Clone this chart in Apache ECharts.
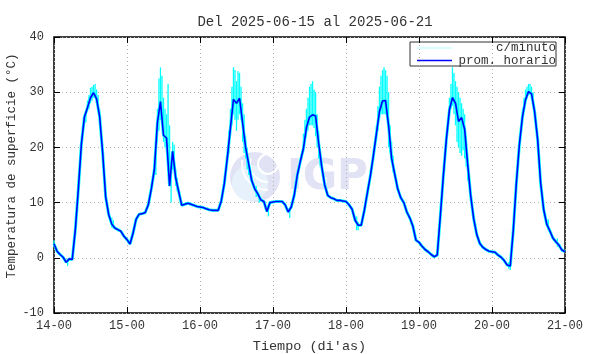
<!DOCTYPE html>
<html>
<head>
<meta charset="utf-8">
<script src="https://cdn.jsdelivr.net/npm/echarts@6.0.0/dist/echarts.min.js"></script>
<style>
  html, body { margin: 0; padding: 0; background: #fff; }
  #chart { width: 590px; height: 354px; }
</style>
</head>
<body>
<div id="chart"></div>
<script>
// etiquetas del eje x (un tick por dia)
const xTickLabels = ['14-00', '15-00', '16-00', '17-00', '18-00', '19-00', '20-00', '21-00']

// promedio horario, 24 valores por dia
const day14 = [2.5, 1.2, 0.6, 0.1, -0.8, -0.2, -0.3, 5.0, 12.4, 20.6, 25.5, 27.2, 29.0, 29.9, 28.8, 25.6, 19.0, 11.0, 7.8, 6.1, 5.4, 5.1, 4.8, 3.9]
const day15 = [3.3, 2.5, 4.5, 7.0, 7.9, 8.0, 8.2, 9.6, 12.5, 16.0, 24.5, 28.3, 22.2, 21.7, 13.0, 19.3, 14.5, 12.0, 9.5, 9.7, 9.9, 9.7, 9.5, 9.3]
const day16 = [9.2, 9.1, 8.9, 8.7, 8.6, 8.6, 8.6, 10.3, 13.5, 18.2, 23.5, 28.7, 28.0, 28.9, 24.5, 20.0, 17.0, 14.0, 12.5, 11.6, 10.5, 10.2, 8.4, 10.0]
const day17 = [10.1, 10.2, 10.2, 10.2, 9.6, 8.3, 9.2, 11.4, 15.0, 17.5, 19.8, 23.6, 25.5, 25.9, 25.7, 20.8, 16.6, 13.2, 11.3, 10.9, 10.7, 10.4, 10.4, 10.3]
const day18 = [10.2, 9.6, 8.8, 6.8, 5.9, 5.9, 8.5, 11.7, 14.8, 18.5, 22.5, 26.5, 28.4, 28.5, 24.0, 18.0, 15.2, 12.5, 10.9, 10.0, 8.3, 7.2, 5.7, 3.2]
const day19 = [2.8, 2.1, 1.5, 1.1, 0.6, 0.2, 0.5, 7.5, 14.8, 21.5, 26.8, 29.0, 28.0, 24.7, 25.4, 23.3, 17.0, 11.2, 7.0, 4.2, 2.6, 1.9, 1.5, 1.2]
const day20 = [1.1, 1.0, 0.5, 0.1, -0.5, -1.3, -1.5, 5.0, 13.5, 20.5, 25.5, 28.6, 30.1, 29.7, 26.5, 21.5, 13.5, 8.7, 6.1, 4.9, 3.6, 2.9, 2.3, 1.4]
const lastValue = 1.1

// rango de los datos por minuto en las horas mas ruidosas: [hora, min, max]
const minuteSpikes = [
  [0, 2.0, 3.2], [4.5, -1.5, -0.3], [8, 11, 14], [10.5, 24.5, 26.5],
  [11, 26.5, 28.5], [11.5, 27, 29.5], [12, 28, 30.8], [12.5, 28.5, 31], [13, 29, 31.3],
  [13.5, 29.2, 31.5], [14, 28, 30.5], [14.5, 26.5, 29.5], [15, 24.5, 27], [19, 5.5, 7.3], [19.5, 5.3, 6.8],
  [33.5, 15, 19], [34, 21, 27], [34.5, 23, 32.5], [35, 25, 34.5], [35.5, 26, 33],
  [36, 21, 29], [36.5, 20, 27], [37, 19, 26], [37.5, 20, 31.5], [38, 14, 24],
  [38.5, 10, 16], [39, 16, 21], [39.5, 17, 20.5], [40, 13, 16], [40.5, 12, 14.5],
  [57.5, 19, 23], [58, 22, 27], [58.5, 24, 31], [59, 26, 34.5], [59.5, 25, 34],
  [60, 23, 32], [60.5, 25, 33.8], [61, 26, 33.5], [61.5, 25, 31], [62, 21, 28],
  [62.5, 19, 26], [63, 18, 22], [63.5, 16, 20], [64, 15, 17.5], [66.5, 11, 13],
  [67.5, 10, 11.5], [70.5, 7.5, 9.5],
  [77.5, 7.2, 9], [82, 19, 22.5], [82.5, 21, 25], [83, 22, 27], [83.5, 23, 29],
  [84, 24, 31], [84.5, 24, 31.5], [85, 24, 32], [85.5, 23.5, 30.5], [86, 22, 30],
  [86.5, 20, 26], [87, 18, 23], [87.5, 16.5, 19.5],
  [99.5, 5, 7.5], [100, 5, 6.5], [106, 21, 24], [106.5, 23, 27.5], [107, 25, 31],
  [107.5, 26, 33], [108, 26, 34], [108.5, 26, 34.5], [109, 26, 34], [109.5, 25, 33],
  [110, 20, 30], [110.5, 19, 24], [111, 17, 21], [111.5, 15.5, 18.5],
  [130, 25, 29], [130.5, 27, 31.5], [131, 27.5, 34.5], [131.5, 26, 33.5], [132, 24, 32],
  [132.5, 21, 31], [133, 20, 30], [133.5, 19, 29], [134, 18.5, 28], [134.5, 19.5, 27],
  [135, 18, 26], [135.5, 16.5, 22], [136, 14, 18],
  [149.5, -2, -0.8], [150, -2.2, -0.8], [154, 24, 27], [154.5, 26.5, 29], [155, 28, 30.5],
  [155.5, 29, 31], [156, 29.5, 31.5], [156.5, 29.5, 31.5], [157, 28.5, 31], [157.5, 27.5, 30],
  [162.5, 5, 7], [165.5, 2, 3.5]
]

const hourly = [...day14, ...day15, ...day16, ...day17, ...day18, ...day19, ...day20, lastValue]
const hourlyData = hourly.map((v, i) => [i, v])

const FONT = 'Liberation Mono'
const CYAN = '#00ffff'
const BLUE = '#0000ff'

const gridLine = { show: true, lineStyle: { color: '#b0b0b0', type: [1, 3], width: 1 } }
const tickIn = { show: true, inside: true, length: 6, lineStyle: { color: '#000', width: 1 } }
const noLine = { show: false, onZero: false }

const chart = echarts.init(document.getElementById('chart'))

chart.setOption({
  animation: false,
  title: {
    text: 'Del 2025-06-15 al 2025-06-21',
    left: 310,
    top: 10,
    textAlign: 'center',
    textStyle: { fontFamily: FONT, fontSize: 14, fontWeight: 'normal', color: '#333' }
  },
  grid: {
    left: 54, top: 37, width: 511, height: 276,
    outerBoundsMode: 'none', containLabel: false,
    show: true, borderColor: '#000', borderWidth: 1.5
  },
  xAxis: [
    {
      type: 'value', min: 0, max: 168, interval: 24,
      axisLine: noLine, axisTick: tickIn, splitLine: gridLine,
      axisLabel: { fontFamily: FONT, fontSize: 12, color: '#333', margin: 7, formatter: v => xTickLabels[v / 24] },
      name: "Tiempo (di'as)", nameLocation: 'middle', nameGap: 26,
      nameTextStyle: { fontFamily: FONT, fontSize: 13.5, color: '#333' }
    },
    {
      type: 'value', position: 'top', min: 0, max: 168, interval: 24,
      axisLine: noLine, axisTick: tickIn, splitLine: { show: false }, axisLabel: { show: false }
    }
  ],
  yAxis: [
    {
      type: 'value', min: -10, max: 40, interval: 10,
      axisLine: noLine, axisTick: tickIn, splitLine: gridLine,
      axisLabel: { fontFamily: FONT, fontSize: 12, color: '#333', margin: 10 }
    },
    {
      type: 'value', position: 'right', min: -10, max: 40, interval: 10,
      axisLine: noLine, axisTick: tickIn, splitLine: { show: false }, axisLabel: { show: false }
    }
  ],
  graphic: [
    {
      // titulo del eje y (gnuplot lo centra un poco por encima)
      type: 'text', x: 12, y: 166, rotation: Math.PI / 2,
      style: { text: 'Temperatura de superficie (°C)', font: '12.5px "Liberation Mono"', fill: '#333', align: 'center', verticalAlign: 'middle' }
    },
    {
      // marca de agua IGP
      type: 'group', z: 1, silent: true,
      children: [
        { type: 'circle', shape: { cx: 255, cy: 177, r: 25 }, style: { fill: '#e2e2f5' } },
        { type: 'circle', shape: { cx: 250, cy: 183, r: 18 }, style: { fill: '#e6f1fc' } },
        { type: 'arc', shape: { cx: 268, cy: 164, r: 10, startAngle: 0, endAngle: Math.PI * 2 }, style: { stroke: '#fff', lineWidth: 2, fill: null } },
        { type: 'arc', shape: { cx: 268, cy: 164, r: 18, startAngle: Math.PI * 0.5, endAngle: Math.PI * 1.1 }, style: { stroke: '#fff', lineWidth: 2, fill: null } },
        { type: 'arc', shape: { cx: 268, cy: 164, r: 26, startAngle: Math.PI * 0.5, endAngle: Math.PI * 1.05 }, style: { stroke: '#fff', lineWidth: 2, fill: null } },
        { type: 'text', x: 287, y: 178, style: { text: 'IGP', font: 'bold 42px "DejaVu Sans"', fill: '#e2e2f5', verticalAlign: 'middle' } }
      ]
    },
    {
      // leyenda estilo gnuplot
      type: 'group', z: 10,
      children: [
        { type: 'rect', shape: { x: 410, y: 42, width: 146, height: 24 }, style: { fill: '#fff', stroke: '#333', lineWidth: 1 } },
        { type: 'line', shape: { x1: 417, y1: 48, x2: 452, y2: 48 }, style: { stroke: '#b0ffff', lineWidth: 1 } },
        { type: 'line', shape: { x1: 417, y1: 60.5, x2: 452, y2: 60.5 }, style: { stroke: BLUE, lineWidth: 1.5 } },
        { type: 'text', x: 556, y: 48, style: { text: 'c/minuto', font: '12.5px "Liberation Mono"', fill: '#333', align: 'right', verticalAlign: 'middle' } },
        { type: 'text', x: 556, y: 61, style: { text: 'prom. horario', font: '12.5px "Liberation Mono"', fill: '#333', align: 'right', verticalAlign: 'middle' } }
      ]
    }
  ],
  series: [
    {
      name: 'c/minuto', type: 'line', data: hourlyData, showSymbol: false, z: 2,
      lineStyle: { color: CYAN, width: 3 }
    },
    {
      name: 'c/minuto', type: 'custom', data: minuteSpikes, z: 2,
      renderItem: (params, api) => {
        const top = api.coord([api.value(0), api.value(2)])
        const bot = api.coord([api.value(0), api.value(1)])
        return {
          type: 'line',
          shape: { x1: top[0], y1: top[1], x2: bot[0], y2: bot[1] },
          style: { stroke: CYAN, lineWidth: 1.3 }
        }
      }
    },
    {
      name: 'prom. horario', type: 'line', data: hourlyData, showSymbol: false, z: 3,
      lineStyle: { color: BLUE, width: 1.6 }
    }
  ]
})
</script>
</body>
</html>
